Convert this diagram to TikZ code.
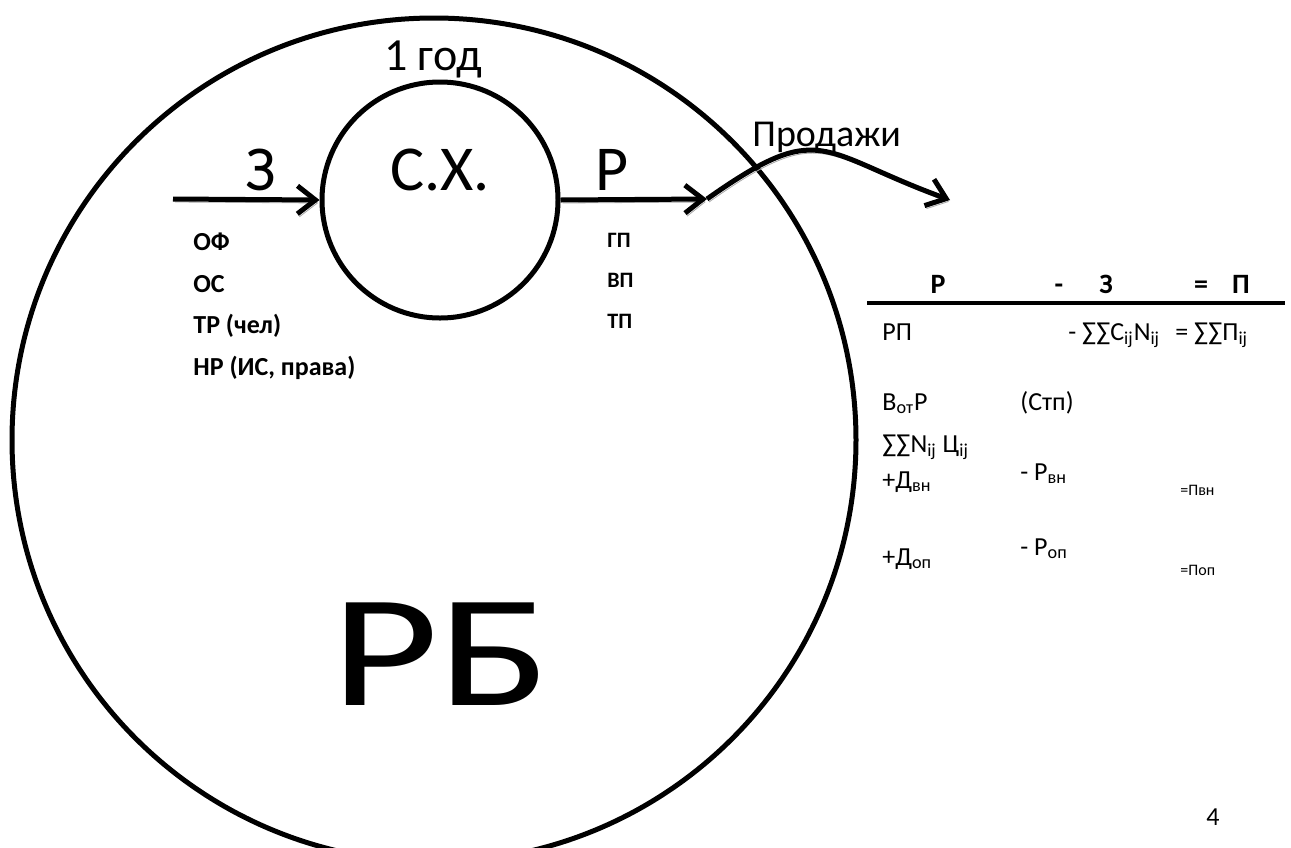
\documentclass[tikz,border=0pt]{standalone}
\usepackage{fontspec}
\setmainfont{Carlito}
\usetikzlibrary{arrows.meta,positioning}
\tikzset{
  ring/.style={
    shape = circle,
    draw,
    line width=2.5pt,
    inner sep=0pt
  },
  flow/.style={
    line width=2.5pt,
    -{Straight Barb[length=9pt,width=14pt]},
    preaction={draw=black!35, transform canvas={xshift=1pt,yshift=-1.5pt}}
  },
  big/.style={
    anchor=base,
    inner sep=0pt,
    font=\fontsize{32}{36}\selectfont
  },
  lst/.style={
    anchor=base west,
    inner sep=0pt,
    font=\bfseries\fontsize{13}{15}\selectfont
  },
  tbl/.style={
    anchor=base west,
    inner sep=0pt,
    font=\fontsize{13}{15}\selectfont
  },
  tiny/.style={
    anchor=base west,
    inner sep=0pt,
    font=\fontsize{8}{10}\selectfont
  },
}

\begin{document}
\begin{tikzpicture}[x=0.5pt,y=-0.5pt]
  \useasboundingbox (0,0) rectangle (1291,847);
  \clip (0,0) rectangle (1291,847);
  % the whole economy and the firm in it
  \node[ring, minimum size=422pt] (rb) at (434,440) {};
  \node[ring, fill=white, minimum size=118pt] (farm) at (440,200) {};
  \node[big] (farmtxt) at (440,190) {С.Х.};
  \node[big, font=\fontsize{23}{26}\selectfont] (year) at (433,70) {1 год};
  \node[big] (costs) at (261,190) {З};
  \node[big] (result) at (612,190) {Р};
  \node[big, xscale=1.3, font=\fontsize{80}{84}\selectfont] (rbtxt) at (441,705) {РБ};

  % flows in and out
  \coordinate (zin) at (173,199);
  \coordinate (rout) at (707,199);
  \coordinate (sold) at (950,200);
  \draw[flow] (zin) -- (farm.west);
  \draw[flow] (farm.east) -- (rout);
  \draw[flow] (rout) .. controls (822,118) and (818,152) .. (sold);
  \node[anchor=base west, inner sep=0pt, font=\fontsize{19}{22}\selectfont] (sales) at (752,146) {Продажи};

  % resources
  \node[lst] (of) at (193,250) {ОФ};
  \node[lst] (os) at (193,292) {ОС};
  \node[lst] (tr) at (193,333) {ТР (чел)};
  \node[lst] (nr) at (193,375) {НР (ИС, права)};

  % products
  \node[lst, font=\bfseries\fontsize{11}{13}\selectfont] (gp) at (607,247) {ГП};
  \node[lst, font=\bfseries\fontsize{11}{13}\selectfont] (vp) at (607,287) {ВП};
  \node[lst, font=\bfseries\fontsize{11}{13}\selectfont] (tp) at (607,328) {ТП};

  % R - Z = P
  \node[lst, anchor=base, font=\bfseries\fontsize{14}{16}\selectfont] (hr) at (938,293) {Р};
  \node[lst, anchor=base, font=\bfseries\fontsize{14}{16}\selectfont] (hm) at (1059,293) {-};
  \node[lst, anchor=base, font=\bfseries\fontsize{14}{16}\selectfont] (hz) at (1106,293) {З};
  \node[lst, anchor=base, font=\bfseries\fontsize{14}{16}\selectfont] (he) at (1201,293) {=};
  \node[lst, anchor=base, font=\bfseries\fontsize{14}{16}\selectfont] (hp) at (1241,293) {П};
  \draw[line width=2pt] (867,303) -- (1285,303);

  \node[tbl] (rp) at (882,340) {РП};
  \node[tbl] (cn) at (1068,340) {- ∑∑C\textsubscript{ij}N\textsubscript{ij}};
  \node[tbl] (pij) at (1175,340) {= ∑∑П\textsubscript{ij}};

  \node[tbl] (vot) at (882,410) {В\textsubscript{от}Р};
  \node[tbl] (stp) at (1020,410) {(Стп)};
  \node[tbl] (nc) at (882,452) {∑∑N\textsubscript{ij} Ц\textsubscript{ij}};
  \node[tbl] (dvn) at (882,488) {+Д\textsubscript{вн}};
  \node[tbl] (rvn) at (1020,480) {- Р\textsubscript{вн}};
  \node[tiny] (pvn) at (1180,495) {=Пвн};
  \node[tbl] (dop) at (882,565) {+Д\textsubscript{оп}};
  \node[tbl] (rop) at (1020,555) {- Р\textsubscript{оп}};
  \node[tiny] (pop) at (1180,575) {=Поп};

  \node[tbl, anchor=base] (page) at (1213,825) {4};
\end{tikzpicture}
\end{document}
